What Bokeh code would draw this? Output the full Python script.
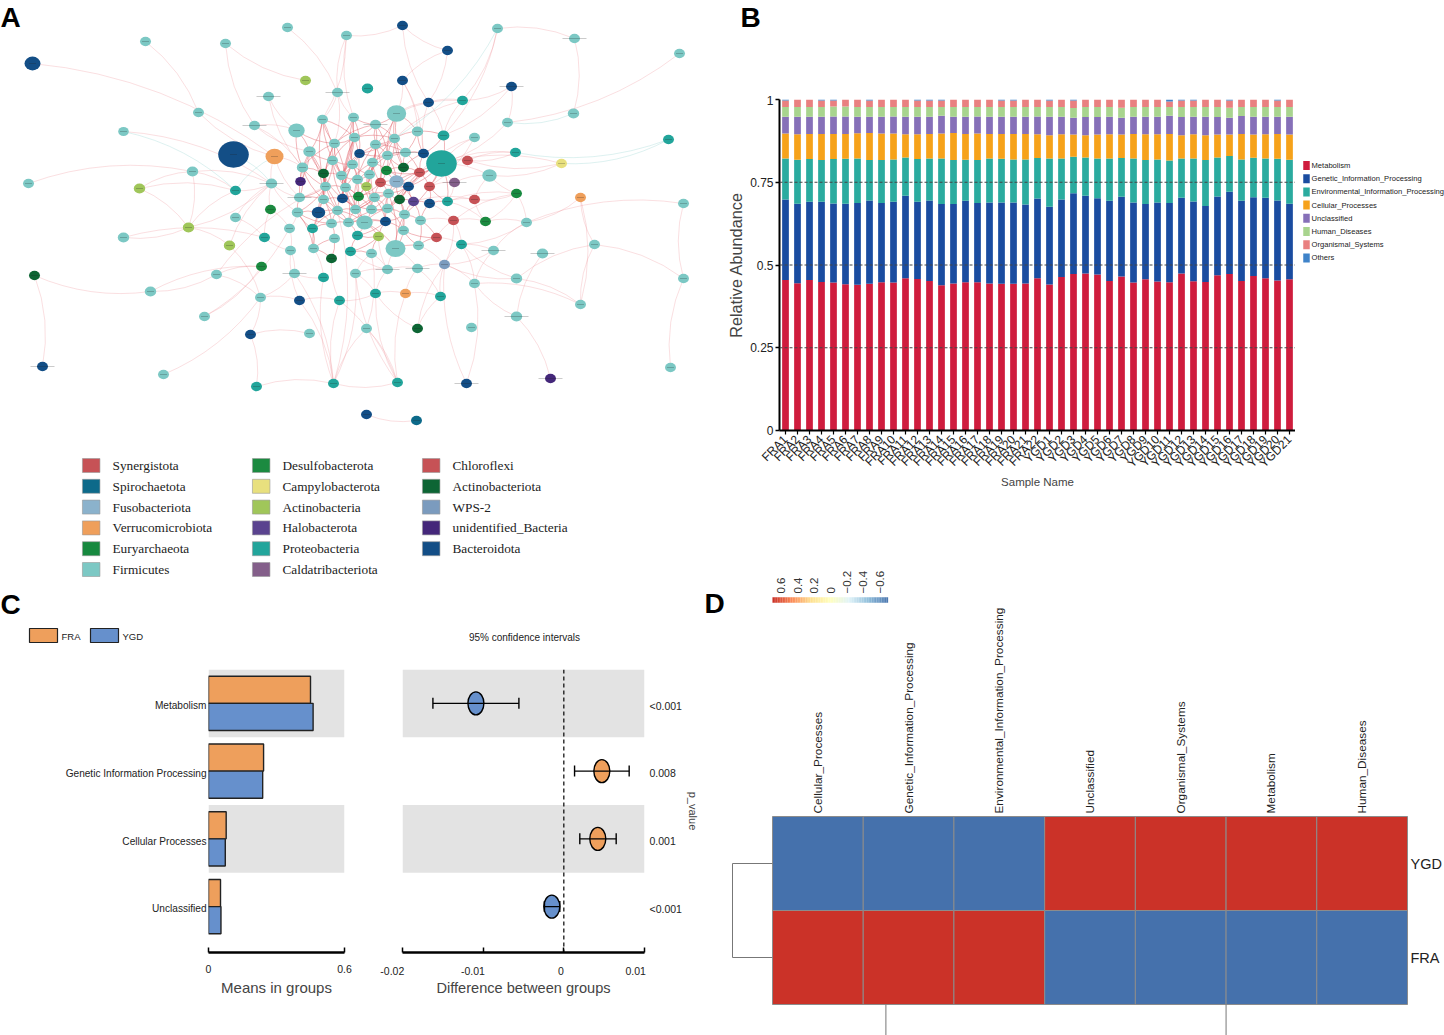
import math
import numpy as np
from bokeh.core.properties import value
from bokeh.embed import file_html
from bokeh.layouts import column, row
from bokeh.models import (ColumnDataSource, FactorRange, FixedTicker, LinearAxis,
                          LinearColorMapper, Range1d, Span, TeeHead, Whisker)
from bokeh.plotting import figure
from bokeh.resources import INLINE

SANS = "Liberation Sans"

# ---------- Panel A: network ----------
phylum_names = ["Synergistota", "Spirochaetota", "Fusobacteriota", "Verrucomicrobiota", "Euryarchaeota", "Firmicutes",
                "Desulfobacterota", "Campylobacterota", "Actinobacteria", "Halobacterota", "Proteobacteria", "Caldatribacteriota",
                "Chloroflexi", "Actinobacteriota", "WPS-2", "unidentified_Bacteria", "Bacteroidota"]
phylum_colors = ["#c65256", "#0d6a8a", "#8bb2cc", "#ef9f5b", "#17893f", "#7cc8c4",
                 "#1b8a40", "#e8e07e", "#a0c65a", "#5a438f", "#22a59b", "#845f8a",
                 "#c65256", "#0d6534", "#7b9bbe", "#44277a", "#134e86"]
node_x = [287,346,145,225,32,305,268,337,367,198,
          322,353,123,254,296,354,334,309,233,274,
          359,332,302,352,192,323,341,369,357,271,
          300,28,139,235,325,345,366,299,323,342,
          358,270,235,297,318,337,355,371,364,331,
          348,188,289,312,123,264,229,357,334,290,
          313,350,371,331,261,216,294,323,355,34,
          150,260,299,339,204,250,309,366,42,163,
          256,333,366,402,447,497,574,679,402,428,
          462,511,396,375,394,417,443,474,507,573,
          668,375,405,423,387,441,467,515,372,386,
          403,419,489,561,380,396,429,454,408,388,
          516,580,374,399,413,429,447,474,683,387,
          404,420,453,485,526,385,403,378,436,395,
          418,461,493,594,542,387,417,444,516,683,
          474,375,405,440,580,516,417,471,670,550,
          466,397,416]
node_y = [27,35,41,43,63,80,96,92,88,112,
          119,117,131,125,130,137,143,151,154,156,
          153,160,167,164,171,173,175,174,179,183,
          181,183,188,190,186,187,186,197,199,198,
          196,209,217,212,212,210,209,209,222,223,
          222,227,228,228,237,237,245,235,238,250,
          248,251,253,258,266,274,273,277,273,275,
          291,297,300,300,316,334,333,328,366,374,
          386,383,414,25,50,28,38,53,80,102,
          100,86,113,124,138,131,135,137,122,113,
          139,144,152,153,155,163,160,152,162,170,
          167,172,175,163,182,181,186,182,186,193,
          193,197,197,199,201,203,201,199,203,208,
          214,220,220,221,222,221,230,236,237,248,
          245,244,250,244,253,269,268,264,278,278,
          283,293,293,296,304,316,328,327,367,378,
          383,382,420]
node_r = [5.5,5.5,5.5,5.5,8,5.5,5.5,5.5,5.7,5.5,
          5.5,5.5,5.3,5.5,8.2,5.5,5.5,6.2,15.3,9,
          5.3,5.5,5.7,5.5,5.7,5.5,5.5,5.5,5.5,5.7,
          5.3,5.5,5.7,5.5,5.5,5.5,5.3,5.5,5.5,5.5,
          5.5,5.5,5.5,5.7,6.7,5.5,5.5,5.5,8.2,5.5,
          5.5,5.7,5.5,5.5,5.7,5.5,5.7,5.5,5.5,5.5,
          5.5,5.5,5.5,5.5,5.5,5.5,5.5,5.5,5.5,5.5,
          5.7,5.5,5.5,5.5,5.5,5.5,5.5,5.5,5.5,5.5,
          5.5,5.5,5.5,5.5,5.5,5.5,5.5,5.5,5.5,5.5,
          5.5,5.5,9.7,5.5,5.5,5.7,5.9,5.5,5.5,5.7,
          5.5,5.5,5.5,5.5,5.5,15.3,5.5,5.5,5.5,5.5,
          5.5,5.5,7.2,5.5,5.5,7.2,5.5,5.5,5.5,5.5,
          5.5,5.5,5.5,5.5,5.5,5.5,5.5,5.5,5.5,5.5,
          5.5,5.5,5.5,5.5,5.5,5.5,5.5,5.5,5.5,10,
          5.5,5.5,5.5,5.5,5.7,5.5,5.5,5.5,5.7,5.5,
          5.5,5.5,5.5,5.5,5.5,5.7,5.5,5.5,5.5,5.5,
          5.5,5.5,5.5]
F, B_, P_, AB, AO, EU, DE, CH, VE, UN, HA, CA, CD, WP, FU, SP = ("Firmicutes", "Bacteroidota", "Proteobacteria", "Actinobacteria",
    "Actinobacteriota", "Euryarchaeota", "Desulfobacterota", "Chloroflexi", "Verrucomicrobiota", "unidentified_Bacteria",
    "Halobacterota", "Campylobacterota", "Caldatribacteriota", "WPS-2", "Fusobacteriota", "Spirochaetota")
node_group = [F,F,F,F,B_,AB,F,F,P_,F,
              F,F,F,F,F,F,F,F,B_,VE,
              B_,F,F,F,F,AO,F,F,F,F,
              UN,F,AB,P_,F,F,AB,F,F,B_,
              EU,DE,F,F,B_,F,F,F,F,F,
              F,AB,F,P_,F,P_,AB,P_,F,F,
              F,P_,F,AO,DE,F,F,P_,F,AO,
              F,F,B_,P_,F,B_,F,F,B_,F,
              P_,P_,B_,B_,B_,F,F,F,B_,B_,
              P_,B_,F,F,F,F,P_,F,F,F,
              P_,F,F,B_,F,P_,CH,P_,F,EU,
              AO,CH,F,CA,CH,FU,CH,CD,B_,F,
              EU,VE,F,AO,HA,B_,P_,CH,F,F,
              F,F,CH,DE,F,B_,F,AB,CH,F,
              F,P_,F,F,F,F,F,WP,F,F,
              F,P_,VE,P_,F,F,AO,F,F,UN,
              B_,P_,SP]
long_label_nodes = [6,7,13,29,37,66,78,86,91,93,102,117,142,144,145,146,155,159,160]
edge_pairs = [(4,19),(2,9),(9,19),(12,29),(3,13),(3,5),(0,7),(1,7),(1,10),(1,11),(1,83),(7,10),(6,22),(13,17),(24,29),
    (24,33),(24,32),(24,51),(32,33),(32,51),(33,51),(31,24),(51,54),(51,56),(51,29),(54,55),(56,71),(56,29),(65,64),(65,70),
    (64,70),(70,69),(69,78),(65,34),(71,72),(71,65),(74,64),(74,52),(75,71),(75,76),(75,80),(79,71),(80,81),(72,81),(72,73),
    (72,59),(73,81),(68,81),(67,81),(66,81),(77,81),(81,161),(81,45),(82,162),(160,150),(159,155),(161,68),(161,73),(161,77),
    (161,152),(156,153),(156,147),(156,151),(160,147),(155,150),(155,144),(154,148),(154,150),(154,143),(148,143),(148,147),
    (148,141),(158,149),(149,143),(149,128),(128,134),(121,143),(121,154),(121,134),(87,98),(85,86),(86,99),(84,83),(84,88),
    (84,89),(83,89),(91,90),(91,96),(91,98),(90,96),(90,92),(90,94),(85,96),(107,105),(113,105),(113,106),(113,112),(120,126),
    (120,132),(120,133),(120,127),(133,134),(132,133),(134,141),(134,142),(134,120),
    (15,21),(15,23),(15,26),(15,16),(15,28),(15,94),(15,93),(16,21),(16,22),(16,26),(16,34),(16,35),(17,22),(17,21),(17,25),
    (17,34),(17,30),(21,23),(21,25),(21,26),(21,34),(22,25),(22,30),(22,37),(23,26),(23,28),(23,27),(23,35),(25,26),(25,34),
    (25,38),(26,28),(26,35),(26,39),(27,28),(27,36),(27,101),(28,40),(28,36),(28,108),(34,35),(34,38),(34,37),(35,39),(35,40),
    (35,45),(36,40),(37,38),(37,43),(38,39),(38,44),(38,45),(39,40),(39,46),(40,46),(40,47),(43,44),(43,52),(44,45),(44,53),
    (45,46),(45,49),(46,48),(46,50),(47,48),(47,122),(48,50),(48,57),(49,50),(49,58),(50,57),(53,60),(58,60),(58,63),(57,61),
    (61,62),(60,63),(52,59),(10,15),(10,16),(10,17),(10,21),(7,16),(7,11),(11,15),(11,93),(11,20),(11,16),(14,17),(14,22),
    (14,16),(13,14),(13,22),(6,14),(19,22),(19,37),(19,29),(29,37),(29,41),(29,43),(41,52),(41,55),(55,59),(42,29),(42,55),
    (33,29),(92,94),(92,88),(92,89),(92,95),(92,93),(92,101),(93,94),(93,101),(94,95),(94,101),(94,102),(95,102),(95,103),
    (95,96),(96,105),(96,103),(97,105),(101,104),(101,102),(102,103),(102,104),(104,108),(104,109),(104,110),(108,109),
    (108,114),(109,110),(109,111),(110,111),(110,103),(110,115),(111,105),(111,116),(111,115),(103,105),(105,106),(105,116),
    (105,117),(105,112),(105,126),(106,107),(114,115),(114,118),(115,118),(115,119),(116,117),(116,125),(116,126),(117,126),
    (117,112),(118,124),(118,119),(118,123),(119,122),(119,123),(119,129),(122,129),(123,124),(123,129),(123,130),(124,125),
    (124,127),(125,126),(125,131),(126,127),(127,133),(127,112),(129,135),(129,130),(130,136),(130,131),(131,132),(131,140),
    (132,138),(132,141),(135,136),(135,137),(136,139),(136,138),(137,145),(138,141),(138,140),(139,140),(139,145),(139,146),
    (140,147),(141,147),(141,142),(142,147),(142,150),(145,146),(146,147),(145,151),(147,150),(146,152),(146,153),(147,153),
    (152,153),(151,152),(62,145),(62,77),(62,68),(68,145),(68,151),(151,161),(73,151),(89,90),(89,96),(89,103),(88,103),
    (88,95),(85,90),(92,104),(92,110),(94,104),(105,119),(105,129),(105,130),(105,123),(105,118),(20,94),(20,102),(20,23),
    (20,26),(139,130),(139,119),(16,93),(28,101),(26,101),(35,108),(40,114),(46,122),(48,135),(48,137),(50,129),(57,137),
    (61,145),(44,60),(43,60),(34,43),(25,44),(60,67),(63,73),(67,66),(59,66),(66,71),(62,137),(48,139),(97,111),(97,116),
    (98,105),(107,106),(112,120),(126,133),(132,147),(141,150),(136,140),(131,138),(125,132),(124,131),
    (10,34),(10,26),(11,26),(11,23),(15,35),(15,39),(16,38),(17,38),(17,37),(21,35),(21,39),(22,34),(22,38),(23,39),(23,40),
    (25,45),(25,39),(26,40),(26,46),(27,40),(27,104),(27,94),(28,46),(28,47),(34,44),(34,45),(35,46),(35,50),(36,47),(36,108),
    (38,49),(38,50),(39,47),(39,48),(40,48),(43,49),(44,49),(45,48),(45,50),(46,122),(46,119),(93,104),(93,108),(101,108),
    (101,114),(101,36),(104,114),(104,115),(108,36),(108,122),(109,114),(109,115),(109,118),(94,109),(94,110),(102,110),
    (102,111),(103,111),(111,118),(111,123),(114,122),(114,119),(115,123),(115,124),(118,129),(119,135),(122,135),(123,136),
    (124,130),(129,136),(130,135),(40,119),(47,119),(47,129),(48,129),(50,135),(57,135),(61,137),(49,53),(45,53),(43,53)]
teal_pairs = [(12,33),(100,107),(100,113),(85,94),(19,33),(18,29),(99,98)]

# ---------- Panel B: stacked bars ----------
samples = [f"FRA{i}" for i in range(1, 23)] + [f"YGD{i}" for i in range(1, 22)]
func_names = ["Metabolism", "Genetic_Information_Processing", "Environmental_Information_Processing", "Cellular_Processes",
              "Unclassified", "Human_Diseases", "Organismal_Systems", "Others"]
func_colors = ["#cf1c3d", "#1a4ca0", "#2aab9f", "#f6a21a", "#8670b8", "#a8d48e", "#e98080", "#3f83c9"]
metabolism_top = [.455,.445,.455,.449,.447,.442,.440,.443,.448,.447,.460,.458,.452,.439,.444,.448,.448,.444,.443,.443,.444,.460,
                  .441,.464,.473,.474,.471,.452,.465,.447,.457,.450,.448,.474,.451,.449,.469,.473,.452,.467,.460,.453,.457]
genetic_top = [.698,.685,.691,.691,.686,.685,.687,.695,.687,.691,.709,.691,.695,.684,.684,.694,.687,.689,.689,.689,.683,.701,
               .676,.698,.717,.709,.702,.694,.706,.689,.684,.689,.687,.703,.692,.678,.707,.721,.694,.705,.703,.695,.685]
environmental_top = [.822,.818,.820,.817,.820,.821,.822,.817,.817,.819,.825,.820,.822,.822,.817,.818,.817,.822,.821,.819,.819,.823,
                     .822,.822,.827,.825,.822,.822,.823,.822,.817,.819,.816,.822,.822,.817,.825,.829,.819,.824,.822,.821,.818]
cellular_top = [.897,.895,.896,.896,.896,.896,.898,.899,.897,.897,.895,.895,.896,.897,.899,.896,.897,.896,.896,.896,.896,.895,
                .892,.895,.894,.892,.894,.895,.894,.896,.895,.895,.896,.892,.895,.892,.894,.894,.896,.894,.895,.896,.894]
unclassified_top = [.948,.948,.948,.948,.949,.949,.948,.948,.948,.949,.948,.948,.948,.951,.948,.948,.949,.948,.948,.948,.948,.949,
                    .948,.948,.945,.947,.947,.948,.945,.948,.948,.948,.951,.947,.948,.948,.947,.945,.950,.948,.948,.948,.948]
human_top = [.977,.977,.977,.977,.979,.979,.977,.977,.977,.977,.977,.977,.977,.977,.977,.977,.977,.977,.977,.977,.977,.977,
             .977,.977,.974,.977,.977,.977,.975,.977,.977,.977,.977,.977,.977,.977,.977,.975,.977,.977,.977,.977,.977]
organismal_top = [.997,1,1,.997,.997,1,1,.997,1,1,1,.997,.997,.997,1,1,1,1,.997,.997,1,1,
                  .997,1,.997,1,1,1,1,1,1,1,.994,.997,.997,1,1,.997,1,1,1,.997,1]
others_top = [1] * 43
y_ticks_b = [0, .25, .5, .75, 1]
y_labels_b = ["0", "0.25", "0.5", "0.75", "1"]

# ---------- Panel C ----------
c_rows = ["Metabolism", "Genetic Information Processing", "Cellular Processes", "Unclassified"]
mean_fra = [.45, .243, .078, .053]
mean_ygd = [.4615, .239, .074, .055]
diff_est = [-.0109, .00471, .00421, -.00149]
diff_low = [-.01623, .00133, .00198, -.0024]
diff_high = [-.00557, .0081, .00649, -.0005]
p_values = ["<0.001", "0.008", "0.001", "<0.001"]
diff_ticks = [-.02, -.01, 0, .01]
diff_tick_labels = ["-0.02", "-0.01", "0", "0.01"]
diff_label_pad = [7, 7, 2, 6]
ORANGE, BLUE = "#ee9f5c", "#6690cc"

# ---------- Panel D ----------
heat_cols = ["Cellular_Processes", "Genetic_Information_Processing", "Environmental_Information_Processing", "Unclassified",
             "Organismal_Systems", "Metabolism", "Human_Diseases"]
heat_rows = ["FRA", "YGD"]
heat_fra = [.707, .707, .707, -.707, -.707, -.707, -.707]
heat_ygd = [-.707, -.707, -.707, .707, .707, .707, .707]
cbar_ticks = [.6, .4, .2, 0, -.2, -.4, -.6]
cbar_labels = ["0.6", "0.4", "0.2", "0", "\u22120.2", "\u22120.4", "\u22120.6"]
cbar_stops = ["#4571ac", "#91bfdb", "#e0f3f8", "#ffffbf", "#fee090", "#fc8d59", "#cb3228"]


def base(width, height, **kw):
    p = figure(width=width, height=height, output_backend="svg", toolbar_location=None, **kw)
    p.outline_line_color = None
    p.background_fill_color = "white"
    p.border_fill_color = "white"
    p.grid.visible = False
    return p


def canvas(width, height):
    return base(width, height, x_range=Range1d(0, width), y_range=Range1d(height, 0), x_axis_type=None, y_axis_type=None, min_border=0)


def letter(p, txt, x, y):
    p.text([x], [y], text=[txt], text_font=value(SANS), text_font_style="bold", text_font_size="28px",
           text_color="black", text_align="left", text_baseline="middle")


# ---------- A ----------
A_W, A_H = 702, 585
pa = canvas(A_W, A_H)
nx, ny = np.array(node_x, float), np.array(node_y, float)


def curves(pairs):
    a = np.array([q[0] for q in pairs])
    b = np.array([q[1] for q in pairs])
    dx, dy = nx[b] - nx[a], ny[b] - ny[a]
    sign = np.where((a + b) % 2 == 0, 1.0, -1.0)
    return dict(x0=nx[a], y0=ny[a], x1=nx[b], y1=ny[b],
                cx=(nx[a] + nx[b]) / 2 - dy * .14 * sign, cy=(ny[a] + ny[b]) / 2 + dx * .14 * sign)


def is_core(pair):
    return all(290 < node_x[k] < 450 and 110 < node_y[k] < 260 for k in pair)


core_pairs = [q for q in edge_pairs if is_core(q)]
outer_pairs = [q for q in edge_pairs if not is_core(q)]
pa.quadratic(source=ColumnDataSource(curves(outer_pairs)), x0="x0", y0="y0", x1="x1", y1="y1", cx="cx", cy="cy",
             line_color="#e8787f", line_alpha=.34, line_width=.7)
pa.quadratic(source=ColumnDataSource(curves(core_pairs)), x0="x0", y0="y0", x1="x1", y1="y1", cx="cx", cy="cy",
             line_color="#e2666e", line_alpha=.6, line_width=.8)
pa.quadratic(source=ColumnDataSource(curves(teal_pairs)), x0="x0", y0="y0", x1="x1", y1="y1", cx="cx", cy="cy",
             line_color="#9fd8d4", line_alpha=.5, line_width=.7)
color_of = dict(zip(phylum_names, phylum_colors))
pa.ellipse(nx, ny, width=[2 * r for r in node_r], height=[1.72 * r for r in node_r],
           fill_color=[color_of[g] for g in node_group], line_color=None)
lab_w = np.array([24 if i in long_label_nodes else 7 for i in range(len(node_x))], float)
pa.segment(nx - lab_w / 2, ny, nx + lab_w / 2, ny, line_color="#222222", line_alpha=.4, line_width=.6)
leg_cols = [82, 252, 422]
for i, (nm, col) in enumerate(zip(phylum_names, phylum_colors)):
    c, r = i // 6, i % 6
    lx = leg_cols[c]
    ly = 465 + r * 20.8
    pa.rect([lx + 8.7], [ly], width=17.5, height=14, fill_color=col, line_color="#999999", line_width=.6)
    pa.text([lx + 30], [ly], text=[nm], text_font=value("Liberation Serif"), text_font_size="13.3px",
            text_baseline="middle", text_color="#222222")
letter(pa, "A", 0, 17)

# ---------- B ----------
hb = canvas(742, 95)
letter(hb, "B", 38, 17)
pb = base(593, 470, x_range=FactorRange(factors=samples, factor_padding=0, range_padding=0), y_range=Range1d(0, 1),
          min_border_left=77, min_border_right=0, min_border_top=4, min_border_bottom=135)
tops = [metabolism_top, genetic_top, environmental_top, cellular_top, unclassified_top, human_top, organismal_top, others_top]
bottom = [0] * 43
for col, top in zip(func_colors, tops):
    pb.vbar(x=samples, bottom=bottom, top=top, width=.56, fill_color=col, line_color=None)
    bottom = top
for v in y_ticks_b[1:-1]:
    pb.add_layout(Span(location=v, dimension="width", line_color="#444444", line_width=1, line_dash="3 2", level="overlay"))
ya = pb.yaxis[0]
ya.ticker = FixedTicker(ticks=y_ticks_b)
ya.major_label_overrides = dict(zip(y_ticks_b, y_labels_b))
ya.major_label_text_font, ya.major_label_text_font_size = SANS, "12px"
ya.major_label_text_color = "#222222"
ya.major_tick_in, ya.major_tick_out, ya.minor_tick_line_color = 0, 4, None
ya.axis_line_width, ya.major_tick_line_width = 2, 1.5
ya.major_label_standoff = 2
ya.axis_label = "Relative Abundance"
ya.axis_label_text_font, ya.axis_label_text_font_size = SANS, "16.3px"
ya.axis_label_text_font_style = "normal"
ya.axis_label_standoff = 2
xa = pb.xaxis[0]
xa.major_label_orientation = math.pi / 4
xa.major_label_text_font, xa.major_label_text_font_size = SANS, "12px"
xa.major_label_text_color = "#222222"
xa.major_tick_in, xa.major_tick_out = 0, 4
xa.axis_line_width, xa.major_tick_line_width = 2, 1.2
xa.major_label_standoff = 3
xa.axis_label = "Sample Name"
xa.axis_label_text_font, xa.axis_label_text_font_size = SANS, "11.5px"
xa.axis_label_text_font_style = "normal"
xa.axis_label_standoff = -2
lf = canvas(149, 470)
for i, (nm, col) in enumerate(zip(func_names, func_colors)):
    ly = 70 + i * 13.2
    lf.rect([11], [ly], width=6.5, height=9, fill_color=col, line_color=None)
    lf.text([16], [ly], text=[nm], text_font=value(SANS), text_font_size="7.6px", text_baseline="middle", text_color="#222222")

# ---------- C header ----------
hc = canvas(702, 84)
letter(hc, "C", 0, 19)
hc.rect([43], [50], width=28, height=14, fill_color=ORANGE, line_color="#222222", line_width=1.2)
hc.rect([104], [50], width=28, height=14, fill_color=BLUE, line_color="#222222", line_width=1.2)
hc.text([61, 122], [51, 51], text=["FRA", "YGD"], text_font=value(SANS), text_font_size="9.5px", text_baseline="middle", text_color="#222222")
hc.text([524], [52], text=["95% confidence intervals"], text_font=value(SANS), text_font_size="10px", text_align="center",
        text_baseline="middle", text_color="#222222")

# ---------- C left ----------
row_y = [3.5, 2.5, 1.5, .5]
label_y = [v - .035 for v in row_y]
C_H = 366
UNIT = 67.7
y_low = -(952 - 940) / UNIT
pc = base(360, C_H, x_range=Range1d(0, .6), y_range=Range1d(y_low, 4),
          min_border_left=208, min_border_right=16, min_border_top=0, min_border_bottom=83)
pc.hbar(y=[row_y[0], row_y[2]], left=0, right=.6, height=1, fill_color="#e3e3e3", line_color=None)
pc.hbar(y=[v + .2 for v in row_y], left=0, right=mean_fra, height=.4, fill_color=ORANGE, line_color="#222222", line_width=1.4)
pc.hbar(y=[v - .2 for v in row_y], left=0, right=mean_ygd, height=.4, fill_color=BLUE, line_color="#222222", line_width=1.4)
ax = pc.xaxis[0]
ax.ticker = FixedTicker(ticks=[0, .6])
ax.major_label_overrides = {0: "0", .6: "0.6"}
ax.major_tick_in, ax.major_tick_out, ax.minor_tick_line_color = 5, 0, None
ax.axis_line_width, ax.major_tick_line_width = 2.5, 1.5
ax.major_label_text_font, ax.major_label_text_font_size = SANS, "10.5px"
ax.major_label_text_color = "#222222"
ax.major_label_standoff = 12
ax.axis_label = "Means in groups"
ax.axis_label_text_font, ax.axis_label_text_font_size = SANS, "15px"
ax.axis_label_text_font_style = "normal"
ax.axis_label_standoff = 3
ay = pc.yaxis[0]
ay.ticker = FixedTicker(ticks=label_y)
ay.major_label_overrides = dict(zip(label_y, c_rows))
ay.axis_line_color, ay.major_tick_line_color, ay.minor_tick_line_color = None, None, None
ay.major_tick_in, ay.major_tick_out = 0, 0
ay.major_label_text_font, ay.major_label_text_font_size = SANS, "10.1px"
ay.major_label_text_color = "#222222"
ay.major_label_standoff = 2

# ---------- C right ----------
pd_ = base(342, C_H, x_range=Range1d(-.02, .01), y_range=Range1d(y_low, 4),
           min_border_left=42, min_border_right=58, min_border_top=0, min_border_bottom=83)
pd_.hbar(y=[row_y[0], row_y[2]], left=-.02, right=.01, height=1, fill_color="#e3e3e3", line_color=None, level="underlay")
pd_.add_layout(Span(location=0, dimension="height", line_color="black", line_width=1.2, line_dash="4 3"))
src = ColumnDataSource(dict(y=row_y, est=diff_est, low=diff_low, high=diff_high,
                            color=[BLUE if v < 0 else ORANGE for v in diff_est]))
pd_.add_layout(Whisker(source=src, base="y", lower="low", upper="high", dimension="width", line_color="black", line_width=1.4,
                       lower_head=TeeHead(size=11, line_color="black", line_width=1.4),
                       upper_head=TeeHead(size=11, line_color="black", line_width=1.4), level="glyph"))
pd_.ellipse(source=src, x="est", y="y", width=16, height=23, width_units="screen", height_units="screen",
            fill_color="color", line_color="black", line_width=1.4)
ax2 = pd_.xaxis[0]
ax2.ticker = FixedTicker(ticks=diff_ticks)
ax2.major_label_overrides = {t: s + "\u00a0" * n for t, s, n in zip(diff_ticks, diff_tick_labels, diff_label_pad)}
ax2.major_tick_in, ax2.major_tick_out, ax2.minor_tick_line_color = 5, 0, None
ax2.axis_line_width, ax2.major_tick_line_width = 2.5, 1.5
ax2.major_label_text_font, ax2.major_label_text_font_size = SANS, "10.5px"
ax2.major_label_text_color = "#222222"
ax2.major_label_standoff = 12
ax2.axis_label = "Difference between groups"
ax2.axis_label_text_font, ax2.axis_label_text_font_size = SANS, "14.6px"
ax2.axis_label_text_font_style = "normal"
ax2.axis_label_standoff = 0
pd_.yaxis.visible = False
ar2 = LinearAxis(ticker=FixedTicker(ticks=label_y), major_label_overrides=dict(zip(label_y, p_values)))
ar2.axis_line_color, ar2.major_tick_line_color, ar2.minor_tick_line_color = None, None, None
ar2.major_tick_in, ar2.major_tick_out = 0, 0
ar2.major_label_text_font, ar2.major_label_text_font_size = SANS, "10.5px"
ar2.major_label_text_color = "#222222"
ar2.major_label_standoff = 5
ar2.axis_label = "p_value"
ar2.axis_label_text_font, ar2.axis_label_text_font_size = SANS, "11px"
ar2.axis_label_text_font_style = "normal"
ar2.axis_label_standoff = 2
pd_.add_layout(ar2, "right")

# ---------- D ----------
XU, YU = 635 / 7, 94.0
D_W, D_H = 742, 470
ph = base(D_W, D_H, x_range=Range1d((702 - 772) / XU, 7 + 37 / XU), y_range=Range1d(-31 / YU, 2 + 251 / YU),
          x_axis_type=None, y_axis_type=None, min_border=0)
stops = np.array([[int(c[i:i + 2], 16) for i in (1, 3, 5)] for c in cbar_stops], float)
grid_pos = np.linspace(0, len(cbar_stops) - 1, 70)
palette = ["#%02x%02x%02x" % tuple(int(round(np.interp(g, np.arange(len(cbar_stops)), stops[:, k]))) for k in range(3)) for g in grid_pos]
mapper = LinearColorMapper(palette=palette, low=-.707, high=.707)
heat_x = [i + .5 for i in range(7)] * 2
heat_y = [.5] * 7 + [1.5] * 7
ph.rect(source=ColumnDataSource(dict(x=heat_x, y=heat_y, v=heat_fra + heat_ygd)), x="x", y="y", width=1, height=1,
        fill_color={"field": "v", "transform": mapper}, line_color="#8c8c8c", line_width=1)
for i, nm in enumerate(heat_cols):
    ph.text([i + .5], [2], text=[nm], angle=math.pi / 2, text_align="left", text_baseline="middle", y_offset=-3,
            text_font=value(SANS), text_font_size="11.8px", text_color="#222222", x_offset=0)
for j, nm in enumerate(heat_rows):
    ph.text([7], [j + .5], text=[nm], x_offset=3, text_baseline="middle", text_font=value(SANS),
            text_font_size="14.5px", text_color="#222222")
ph.line([0, -40 / XU, -40 / XU, 0], [1.5, 1.5, .5, .5], line_color="#777777", line_width=1)
ph.segment([1.25, 5], [0, 0], [1.25, 5], [-31 / YU] * 2, line_color="#777777", line_width=1)
cb_v = np.linspace(.7, -.695, 70)
cb_x = (830 - cb_v * 81.7 - 772) / XU
ph.rect(cb_x, [(1004 - 599.5) / YU] * 70, width=114 / 70 / XU * 1.05, height=5.5 / YU,
        fill_color=[palette[int(round((v + .707) / 1.414 * 69))] for v in cb_v], line_color=None)
for t, s in zip(cbar_ticks, cbar_labels):
    ph.text([(830 - t * 81.7 - 772) / XU], [(1004 - 593) / YU], text=[s], angle=math.pi / 2, text_align="left", text_baseline="middle",
            text_font=value(SANS), text_font_size="11.5px", text_color="#333333")
ph.text([(704 - 772) / XU], [(1004 - 603) / YU], text=["D"], text_font=value(SANS), text_font_style="bold",
        text_font_size="28px", text_color="black", text_baseline="middle")

left = column(row(pa), row(hc), row(pc, pd_, spacing=0), spacing=0)
right = column(row(hb), row(row(pb), row(lf), spacing=0), row(ph), spacing=0)
root = row(left, right, spacing=0)
open("out.html", "w").write(file_html(root, INLINE))
